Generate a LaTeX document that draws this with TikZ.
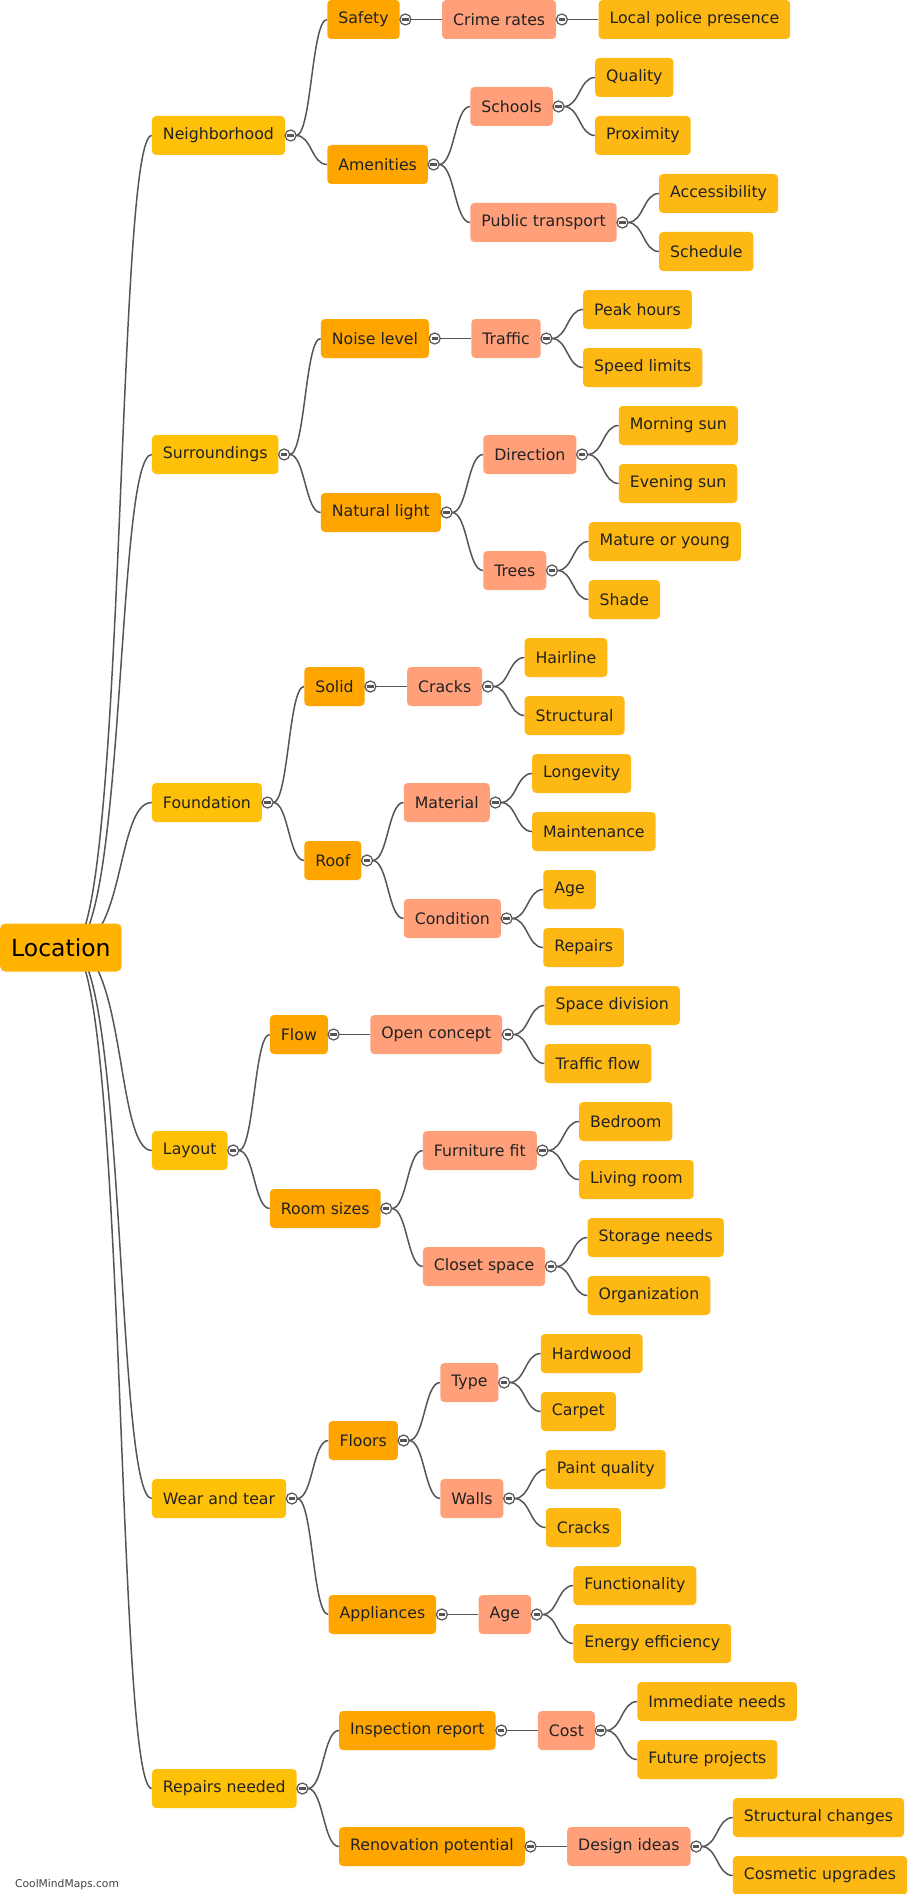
\documentclass[tikz,border=0pt]{standalone}
\usepackage{fontspec}
\setmainfont{DejaVu Sans}
\usetikzlibrary{calc,backgrounds}
\definecolor{cRoot}{HTML}{FFB300}
\definecolor{cLa}{HTML}{FFC107}
\definecolor{cLb}{HTML}{FFA500}
\definecolor{cLc}{HTML}{FFA07A}
\definecolor{cLd}{HTML}{FDB813}
\definecolor{cLine}{HTML}{555555}
\definecolor{cText}{HTML}{222222}
\tikzset{
  mmbox/.style={rounded corners=4pt, minimum height=39pt, inner xsep=11pt, inner ysep=0pt,
    anchor=west, text=cText, font=\fontsize{15.75}{18}\selectfont},
  lvone/.style={mmbox, fill=cLa},
  lvtwo/.style={mmbox, fill=cLb},
  lvthree/.style={mmbox, fill=cLc},
  lvfour/.style={mmbox, fill=cLd},
  rootbox/.style={rounded corners=5pt, fill=cRoot, minimum height=48pt, inner xsep=11pt,
    inner ysep=0pt, anchor=west, text=black, font=\fontsize{23.5}{27}\selectfont},
  conn/.style={draw=cLine, line width=1.5pt},
  knob/.style={circle, draw=cLine, fill=white, line width=1.2pt, minimum size=11pt, inner sep=0pt,
    path picture={\draw[cLine, line width=2.2pt] ([xshift=-3.2pt]path picture bounding box.center) -- ([xshift=3.2pt]path picture bounding box.center);}},
}
% #1 gap, #2 parent, #3 name, #4 style, #5 row, #6 text
\newcommand\kid[6][42pt]{%
  \path let \p1=(#2.east) in node[#4] (#3) at (\x1+#1,{-(19.5pt+58pt*#5)}) {#6};
  \begin{pgfonlayer}{background}
  \draw[conn] let \p1=([xshift=11pt]#2.east), \p2=(#3.west), \p3=($(\p1)!0.5!(\p2)$) in
    (\p1) .. controls (\x3,\y1) and (\x3,\y2) .. (\p2);
  \end{pgfonlayer}}
\newcommand\rkid[4]{%
  \path let \p1=(#1.east) in node[lvone] (#2) at (\x1+30pt,{-(19.5pt+58pt*#3)}) {#4};
  \begin{pgfonlayer}{background}
  \draw[conn] let \p1=([xshift=10pt]#1.center), \p2=(#2.west) in
    (\p1) .. controls (\x1+55pt,\y1) and (\x2-36pt,\y2) .. (\p2);
  \end{pgfonlayer}}
\begin{document}
\begin{tikzpicture}
\useasboundingbox (0,0) rectangle (917pt,-1894pt);
\begin{pgfonlayer}{background}
\fill[white] (0,0) rectangle (917pt,-1894pt);
\end{pgfonlayer}

\node[rootbox] (loc) at (0,-947.5pt) {Location};

\rkid{loc}{nbh}{2}{Neighborhood}
\rkid{loc}{sur}{7.5}{Surroundings}
\rkid{loc}{fnd}{13.5}{Foundation}
\rkid{loc}{lay}{19.5}{Layout}
\rkid{loc}{wea}{25.5}{Wear and tear}
\rkid{loc}{rep}{30.5}{Repairs needed}

\kid{nbh}{saf}{lvtwo}{0}{Safety}
\kid{nbh}{ame}{lvtwo}{2.5}{Amenities}
\kid{sur}{noi}{lvtwo}{5.5}{Noise level}
\kid{sur}{nat}{lvtwo}{8.5}{Natural light}
\kid{fnd}{sol}{lvtwo}{11.5}{Solid}
\kid{fnd}{roo}{lvtwo}{14.5}{Roof}
\kid{lay}{flo}{lvtwo}{17.5}{Flow}
\kid{lay}{rms}{lvtwo}{20.5}{Room sizes}
\kid{wea}{flr}{lvtwo}{24.5}{Floors}
\kid{wea}{app}{lvtwo}{27.5}{Appliances}
\kid{rep}{ins}{lvtwo}{29.5}{Inspection report}
\kid{rep}{ren}{lvtwo}{31.5}{Renovation potential}

\kid{saf}{cri}{lvthree}{0}{Crime rates}
\kid{ame}{sch}{lvthree}{1.5}{Schools}
\kid{ame}{pub}{lvthree}{3.5}{Public transport}
\kid{noi}{tra}{lvthree}{5.5}{Traffic}
\kid{nat}{dir}{lvthree}{7.5}{Direction}
\kid{nat}{tre}{lvthree}{9.5}{Trees}
\kid{sol}{crk}{lvthree}{11.5}{Cracks}
\kid{roo}{mat}{lvthree}{13.5}{Material}
\kid{roo}{con}{lvthree}{15.5}{Condition}
\kid{flo}{opc}{lvthree}{17.5}{Open concept}
\kid{rms}{fur}{lvthree}{19.5}{Furniture fit}
\kid{rms}{clo}{lvthree}{21.5}{Closet space}
\kid{flr}{typ}{lvthree}{23.5}{Type}
\kid{flr}{wal}{lvthree}{25.5}{Walls}
\kid{app}{age}{lvthree}{27.5}{Age}
\kid{ins}{cos}{lvthree}{29.5}{Cost}
\kid{ren}{des}{lvthree}{31.5}{Design ideas}

\kid{cri}{lpp}{lvfour}{0}{Local police presence}
\kid{sch}{qua}{lvfour}{1}{Quality}
\kid{sch}{pro}{lvfour}{2}{Proximity}
\kid{pub}{acc}{lvfour}{3}{Accessibility}
\kid{pub}{sce}{lvfour}{4}{Schedule}
\kid{tra}{pea}{lvfour}{5}{Peak hours}
\kid{tra}{spe}{lvfour}{6}{Speed limits}
\kid{dir}{mor}{lvfour}{7}{Morning sun}
\kid{dir}{eve}{lvfour}{8}{Evening sun}
\kid{tre}{mty}{lvfour}{9}{Mature or young}
\kid{tre}{sha}{lvfour}{10}{Shade}
\kid{crk}{hai}{lvfour}{11}{Hairline}
\kid{crk}{stu}{lvfour}{12}{Structural}
\kid{mat}{lon}{lvfour}{13}{Longevity}
\kid{mat}{mai}{lvfour}{14}{Maintenance}
\kid{con}{cag}{lvfour}{15}{Age}
\kid{con}{crp}{lvfour}{16}{Repairs}
\kid{opc}{spd}{lvfour}{17}{Space division}
\kid{opc}{tfl}{lvfour}{18}{Traffic flow}
\kid{fur}{bed}{lvfour}{19}{Bedroom}
\kid{fur}{liv}{lvfour}{20}{Living room}
\kid{clo}{sto}{lvfour}{21}{Storage needs}
\kid{clo}{org}{lvfour}{22}{Organization}
\kid{typ}{har}{lvfour}{23}{Hardwood}
\kid{typ}{car}{lvfour}{24}{Carpet}
\kid{wal}{pai}{lvfour}{25}{Paint quality}
\kid{wal}{wcr}{lvfour}{26}{Cracks}
\kid{age}{fun}{lvfour}{27}{Functionality}
\kid{age}{ene}{lvfour}{28}{Energy efficiency}
\kid{cos}{imm}{lvfour}{29}{Immediate needs}
\kid{cos}{fut}{lvfour}{30}{Future projects}
\kid{des}{stc}{lvfour}{31}{Structural changes}
\kid{des}{cup}{lvfour}{32}{Cosmetic upgrades}

\foreach \q in {nbh,sur,fnd,lay,wea,rep,saf,ame,noi,nat,sol,roo,flo,rms,flr,app,ins,ren,
  cri,sch,pub,tra,dir,tre,crk,mat,con,opc,fur,clo,typ,wal,age,cos,des}
  {\node[knob] (k-\q) at ([xshift=5.5pt]\q.east) {};}

\node[anchor=west, inner sep=0pt, text=cText!85, font=\fontsize{10.7}{12}\selectfont] (wm) at (15pt,-1885pt) {CoolMindMaps.com};
\end{tikzpicture}
\end{document}
